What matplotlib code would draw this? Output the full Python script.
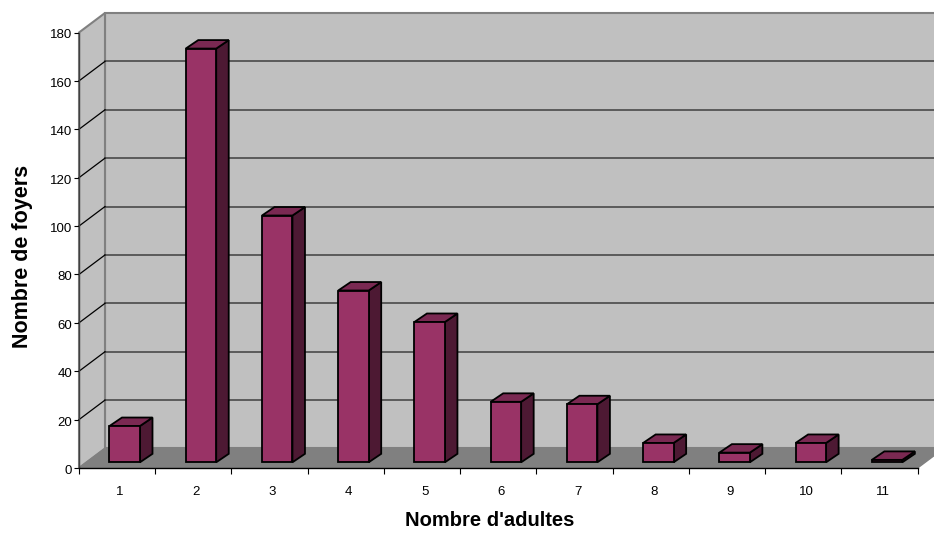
import matplotlib
matplotlib.use("Agg")
import matplotlib.pyplot as plt
from matplotlib.patches import Polygon
from matplotlib.transforms import ScaledTranslation

plt.rcParams["font.family"] = ["Liberation Sans", "DejaVu Sans"]

categories = [1, 2, 3, 4, 5, 6, 7, 8, 9, 10, 11]
foyers = [15, 171, 102, 71, 58, 25, 24, 8, 4, 8, 1]
y_ticks = [0, 20, 40, 60, 80, 100, 120, 140, 160, 180]

# pseudo 3D depth, in data units
WALL_DX, WALL_DY = 0.341, 8.06
BAR_X, BAR_Y = 0.10, 2.36
BAR_DX, BAR_DY = 0.164, 3.5
BAR_W = 0.40

W, H = 934, 533
fig = plt.figure(figsize=(W / 100, H / 100), dpi=100)
ax = fig.add_axes([79 / W, 1 - 468 / H, (917.6 - 79) / W, (468 - 32.5) / H])
ax.patch.set_visible(False)
ax.set_xlim(0.5, 11.5)
ax.set_ylim(0, 180)


def poly(pts, face, edge, lw, z):
    ax.add_patch(Polygon(pts, closed=True, facecolor=face, edgecolor=edge, linewidth=lw,
                         zorder=z, clip_on=False, joinstyle="miter"))


x0, x1 = 0.5, 11.5
y_top = y_ticks[-1]

# walls and floor
poly([(x0 + WALL_DX, WALL_DY), (x1 + WALL_DX, WALL_DY), (x1 + WALL_DX, y_top + WALL_DY), (x0 + WALL_DX, y_top + WALL_DY)],
     "#c0c0c0", "#808080", 1.5, 1)
poly([(x0, 0), (x0 + WALL_DX, WALL_DY), (x0 + WALL_DX, y_top + WALL_DY), (x0, y_top)],
     "#c0c0c0", "#808080", 1.5, 1)
poly([(x0, 0), (x1, 0), (x1 + WALL_DX, WALL_DY), (x0 + WALL_DX, WALL_DY)],
     "#808080", "#808080", 1.0, 2)

# grid
for v in y_ticks[1:-1]:
    ax.plot([x0 + WALL_DX, x1 + WALL_DX], [v + WALL_DY, v + WALL_DY], color="#404040", lw=1.1, zorder=2, clip_on=False)
    ax.plot([x0, x0 + WALL_DX], [v, v + WALL_DY], color="black", lw=0.9, zorder=2, clip_on=False)

# bars
for c, v in zip(categories, foyers):
    l = c - BAR_W / 2 + BAR_X
    r = c + BAR_W / 2 + BAR_X
    b = BAR_Y
    t = BAR_Y + v
    poly([(r, b), (r + BAR_DX, b + BAR_DY), (r + BAR_DX, t + BAR_DY), (r, t)], "#4d1933", "black", 1.3, 3)
    poly([(l, t), (r, t), (r + BAR_DX, t + BAR_DY), (l + BAR_DX, t + BAR_DY)], "#7a2952", "black", 1.3, 3)
    poly([(l, b), (r, b), (r, t), (l, t)], "#993366", "black", 1.3, 4)

# axes
for side in ["top", "right"]:
    ax.spines[side].set_visible(False)
ax.spines["left"].set_color("#404040")
ax.spines["bottom"].set_color("black")
for side in ["left", "bottom"]:
    ax.spines[side].set_linewidth(1.0)
    ax.spines[side].set_zorder(5)
ax.set_yticks(y_ticks)
ax.set_xticks([c - 0.5 for c in categories] + [categories[-1] + 0.5])
ax.set_xticklabels([])
ax.set_xticks(categories, labels=[str(c) for c in categories], minor=True)
ax.tick_params(axis="y", length=3.5, width=0.8, pad=1.5, labelsize=9.5, color="black")
ax.tick_params(axis="x", which="major", length=4.5, width=0.8, color="black")
ax.tick_params(axis="x", which="minor", length=0, pad=13, labelsize=9.5)

# tick labels sit a little off their ticks in the original
for lab in ax.get_yticklabels():
    lab.set_transform(lab.get_transform() + ScaledTranslation(0, -1.5 / 100, fig.dpi_scale_trans))
for lab in ax.get_xticklabels(minor=True):
    lab.set_transform(lab.get_transform() + ScaledTranslation(3 / 100, 0, fig.dpi_scale_trans))

ax.set_xlabel("Nombre d'adultes", fontsize=14.5, fontweight="bold", labelpad=9.5, x=0.49)
ax.set_ylabel("Nombre de foyers", fontsize=15.5, fontweight="bold", labelpad=12, y=0.486)

fig.savefig("out.png", dpi=100)
